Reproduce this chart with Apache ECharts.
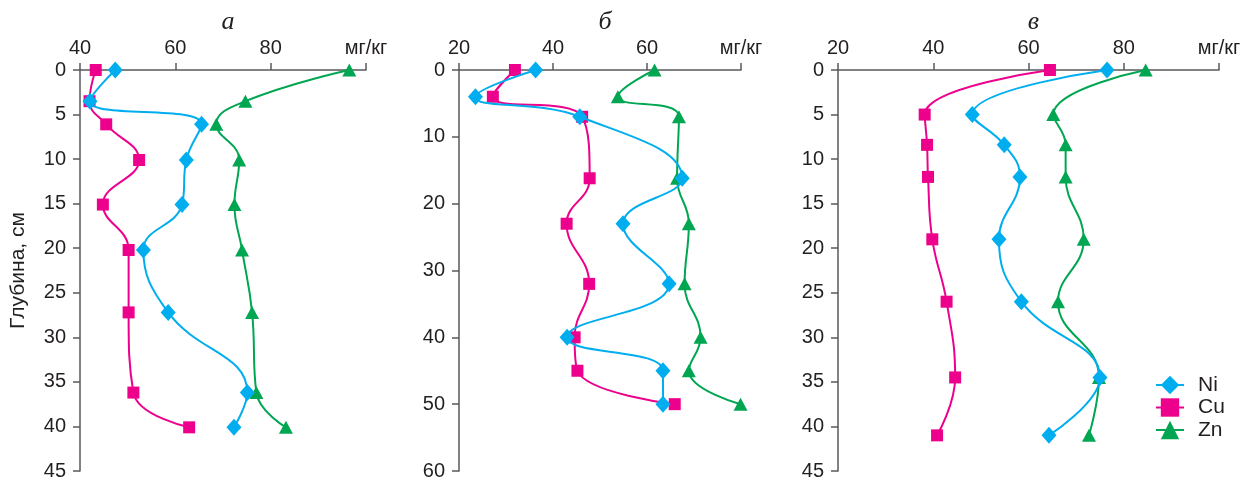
<!DOCTYPE html>
<html>
<head>
<meta charset="utf-8">
<script src="https://cdn.jsdelivr.net/npm/echarts@6/dist/echarts.min.js"></script>
<style>
  html, body { margin: 0; padding: 0; background: #fff; }
  #charts { width: 1247px; height: 481px; }
</style>
</head>
<body>
<div id="charts"></div>
<script>
// глубина, см (общая для трёх элементов в каждой панели)
const depthA = [0, 3.5, 6.1, 10.1, 15.1, 20.2, 27.2, 36.2, 40.1];
const niA = [47.4, 42.1, 65.5, 62.3, 61.4, 53.3, 58.5, 75.1, 72.3];
const cuA = [43.3, 42.0, 45.5, 52.4, 44.8, 50.2, 50.2, 51.2, 62.9];
const znA = [96.5, 74.7, 68.6, 73.4, 72.4, 74.0, 76.1, 77.0, 83.2];

const depthB = [0, 4, 7, 16.2, 23, 32, 40, 45, 50];
const niB = [36.3, 23.5, 45.7, 67.5, 54.9, 64.7, 43.0, 63.4, 63.4];
const cuB = [31.9, 27.2, 46.2, 47.8, 42.9, 47.7, 44.6, 45.2, 65.9];
const znB = [61.6, 53.8, 66.8, 66.4, 68.9, 68.0, 71.4, 68.9, 79.9];

const depthC = [0, 5, 8.4, 12, 19, 26, 34.5, 41];
const niC = [76.5, 48.2, 54.9, 58.2, 53.8, 58.5, 75.0, 64.3];
const cuC = [64.5, 38.2, 38.7, 38.9, 39.8, 42.8, 44.6, 40.8];
const znC = [84.6, 65.2, 67.8, 67.8, 71.6, 66.2, 74.8, 72.7];

const panelTitles = ['а', 'б', 'в'];
const xRanges = [[40, 100], [20, 80], [20, 100]];
const yRanges = [[0, 45, 5], [0, 60, 10], [0, 45, 5]];
const unitLabel = 'мг/кг';
const depthName = 'Глубина, см';

const colors = { Ni: '#00aeef', Cu: '#ec008c', Zn: '#00a651' };
const symbols = { Ni: 'diamond', Cu: 'rect', Zn: 'triangle' };
const symbolSizes = { Ni: [15, 17], Cu: [12, 12], Zn: [14, 13] };

const grids = [
  { left: 80, top: 70, width: 286, height: 401 },
  { left: 459, top: 70, width: 282, height: 401 },
  { left: 838, top: 70, width: 381, height: 401 }
];

const font = 'Liberation Sans, Arial, sans-serif';
const axisColor = '#58595b';
const textColor = '#231f20';

function zip(xs, ys) {
  return xs.map((v, i) => [v, ys[i]]);
}

function makeSeries(name, values, depths, idx) {
  return {
    name: name,
    type: 'line',
    xAxisIndex: idx,
    yAxisIndex: idx,
    smooth: 0.45,
    data: zip(values, depths),
    symbol: symbols[name],
    symbolSize: symbolSizes[name],
    lineStyle: { color: colors[name], width: 2 },
    itemStyle: { color: colors[name] },
    z: name === 'Cu' ? 3 : (name === 'Ni' ? 4 : 2)
  };
}

var chart = echarts.init(document.getElementById('charts'));

var option = {
  animation: false,
  backgroundColor: '#fff',
  title: panelTitles.map((t, i) => ({
    text: t,
    left: grids[i].left + grids[i].width / 2,
    textAlign: 'center',
    top: 4,
    textStyle: {
      fontFamily: 'Liberation Serif, DejaVu Serif, serif',
      fontStyle: 'italic',
      fontWeight: 'normal',
      fontSize: 26,
      color: textColor
    }
  })),
  legend: {
    orient: 'vertical',
    left: 1155,
    top: 374.5,
    padding: 0,
    itemWidth: 28,
    itemHeight: 23,
    itemGap: 1.5,
    data: ['Ni', 'Cu', 'Zn'],
    textStyle: { fontFamily: font, fontSize: 21, lineHeight: 21, color: textColor, padding: [0, 0, 0, 9] }
  },
  grid: grids,
  xAxis: xRanges.map((r, i) => ({
    type: 'value',
    gridIndex: i,
    position: 'top',
    min: r[0],
    max: r[1],
    interval: 20,
    axisLine: { show: true, lineStyle: { color: axisColor, width: 1.5 } },
    axisTick: { show: true, inside: false, length: 7, lineStyle: { color: axisColor, width: 1.5 } },
    splitLine: { show: false },
    axisLabel: {
      margin: 12,
      fontFamily: font,
      fontSize: 20,
      color: textColor,
      formatter: v => (v === r[1] ? unitLabel : String(v))
    }
  })),
  yAxis: yRanges.map((r, i) => ({
    type: 'value',
    gridIndex: i,
    inverse: true,
    min: r[0],
    max: r[1],
    interval: r[2],
    name: i === 0 ? depthName : '',
    nameLocation: 'middle',
    nameGap: 51,
    nameTextStyle: { fontFamily: font, fontSize: 21, color: textColor },
    axisLine: { show: true, lineStyle: { color: axisColor, width: 1.5 } },
    axisTick: { show: true, inside: false, length: 7, lineStyle: { color: axisColor, width: 1.5 } },
    splitLine: { show: false },
    axisLabel: { margin: 14, fontFamily: font, fontSize: 20, color: textColor }
  })),
  series: [
    makeSeries('Ni', niA, depthA, 0),
    makeSeries('Cu', cuA, depthA, 0),
    makeSeries('Zn', znA, depthA, 0),
    makeSeries('Ni', niB, depthB, 1),
    makeSeries('Cu', cuB, depthB, 1),
    makeSeries('Zn', znB, depthB, 1),
    makeSeries('Ni', niC, depthC, 2),
    makeSeries('Cu', cuC, depthC, 2),
    makeSeries('Zn', znC, depthC, 2)
  ]
};

chart.setOption(option);
</script>
</body>
</html>
